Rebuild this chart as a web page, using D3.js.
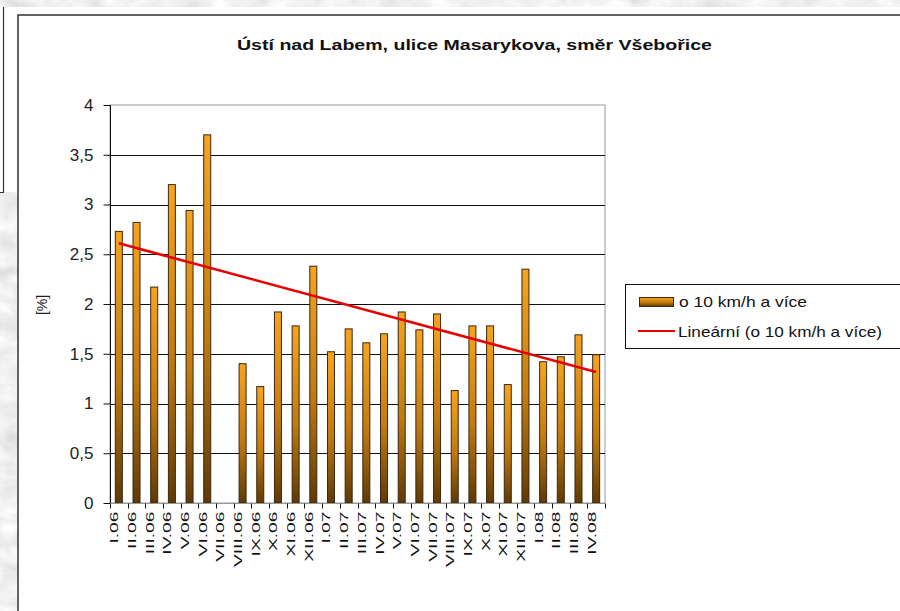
<!DOCTYPE html>
<html>
<head>
<meta charset="utf-8">
<script src="https://cdn.jsdelivr.net/npm/d3@7"></script>
<style>
    body { margin: 0; background: #fff; }
    svg text { font-family: Arial, "Liberation Sans", sans-serif; }
</style>
</head>
<body>
<div id="chart"></div>
<script>
const months = ["I.06", "II.06", "III.06", "IV.06", "V.06", "VI.06", "VII.06", "VIII.06", "IX.06", "X.06", "XI.06", "XII.06",
    "I.07", "II.07", "III.07", "IV.07", "V.07", "VI.07", "VII.07", "VIII.07", "IX.07", "X.07", "XI.07", "XII.07",
    "I.08", "II.08", "III.08", "IV.08"];
const values = [2.73, 2.82, 2.17, 3.2, 2.94, 3.7, null, 1.4, 1.17, 1.92, 1.78, 2.38,
    1.52, 1.75, 1.61, 1.7, 1.92, 1.74, 1.9, 1.13, 1.78, 1.78, 1.19, 2.35,
    1.42, 1.47, 1.69, 1.49];
const yTicks = [0, 0.5, 1, 1.5, 2, 2.5, 3, 3.5, 4];
const seriesName = "o 10 km/h a více";
const trendName = "Lineární (o 10 km/h a více)";
const title = "Ústí nad Labem, ulice Masarykova, směr Všebořice";

const width = 900, height = 611;
const plot = { left: 110, right: 605, top: 105, bottom: 503 };

const svg = d3.select("#chart")
    .append("svg")
    .attr("width", width)
    .attr("height", height);

const defs = svg.append("defs");

// grey marble-ish page background
const marble = defs.append("filter").attr("id", "marble")
    .attr("x", 0).attr("y", 0).attr("width", "100%").attr("height", "100%");
marble.append("feTurbulence")
    .attr("type", "fractalNoise")
    .attr("baseFrequency", "0.04 0.06")
    .attr("numOctaves", 4)
    .attr("seed", 3);
marble.append("feColorMatrix")
    .attr("type", "matrix")
    .attr("values", "0.22 0.22 0.22 0 0.55  0.22 0.22 0.22 0 0.55  0.22 0.22 0.22 0 0.55  0 0 0 0 1");

const barGrad = defs.append("linearGradient")
    .attr("id", "barGrad")
    .attr("x1", 0).attr("y1", 0).attr("x2", 0).attr("y2", 1);
barGrad.append("stop").attr("offset", "0%").attr("stop-color", "#f7a41e");
barGrad.append("stop").attr("offset", "55%").attr("stop-color", "#c27a10");
barGrad.append("stop").attr("offset", "100%").attr("stop-color", "#5e3a05");

svg.append("rect")
    .attr("width", width).attr("height", height)
    .attr("filter", "url(#marble)");

// white strips / neighbouring box at the top left
svg.append("rect").attr("x", 0).attr("y", 7).attr("width", width).attr("height", 185).attr("fill", "#fff");
svg.append("path")
    .attr("d", "M3.5,7 V192.5 H0")
    .attr("fill", "none").attr("stroke", "#333").attr("stroke-width", 1.2);

// chart frame
svg.append("rect")
    .attr("x", 18).attr("y", 15)
    .attr("width", width).attr("height", height)
    .attr("fill", "#fff")
    .attr("stroke", "#333").attr("stroke-width", 1.5);

svg.append("text")
    .attr("x", 474.5).attr("y", 50)
    .attr("text-anchor", "middle")
    .attr("font-size", 15).attr("font-weight", "bold")
    .attr("textLength", 475).attr("lengthAdjust", "spacingAndGlyphs")
    .attr("fill", "#111")
    .text(title);

const x = d3.scaleBand().domain(months).range([plot.left, plot.right]);
const y = d3.scaleLinear().domain([0, 4]).range([plot.bottom, plot.top]);

// plot area border
svg.append("rect")
    .attr("x", plot.left).attr("y", plot.top)
    .attr("width", plot.right - plot.left).attr("height", plot.bottom - plot.top)
    .attr("fill", "#fff").attr("stroke", "#999").attr("stroke-width", 1);

svg.append("g")
    .selectAll("line")
    .data(yTicks.filter((d) => d > 0 && d < 4))
    .enter()
    .append("line")
    .attr("x1", plot.left).attr("x2", plot.right)
    .attr("y1", (d) => Math.round(y(d)) + 0.5).attr("y2", (d) => Math.round(y(d)) + 0.5)
    .attr("stroke", "#111").attr("stroke-width", 1.1);

const barW = 8;
svg.append("g")
    .selectAll("rect")
    .data(months.map((m, i) => ({ m, v: values[i] })).filter((d) => d.v !== null))
    .enter()
    .append("rect")
    .attr("x", (d) => x(d.m) + x.bandwidth() / 2 - barW / 2 + 0.5)
    .attr("y", (d) => y(d.v))
    .attr("width", barW - 1)
    .attr("height", (d) => y(0) - y(d.v))
    .attr("fill", "url(#barGrad)")
    .attr("stroke", "#3a2810").attr("stroke-width", 1);

// y axis
const yAxis = svg.append("g")
    .attr("transform", `translate(${plot.left + 0.5},0)`)
    .call(d3.axisLeft(y).tickValues(yTicks).tickSize(7).tickPadding(10)
        .tickFormat((d) => String(d).replace(".", ",")));
yAxis.select(".domain").attr("stroke", "#111").attr("d", `M0,${plot.top}V${plot.bottom}`);
yAxis.selectAll(".tick line").attr("stroke", "#111");
yAxis.selectAll(".tick text")
    .attr("font-size", 17)
    .attr("font-family", "Arial, 'Liberation Sans', sans-serif")
    .attr("fill", "#222");

// x axis
const xAxis = svg.append("g")
    .attr("transform", `translate(0,${plot.bottom + 0.5})`);
xAxis.append("line")
    .attr("x1", plot.left).attr("x2", plot.right)
    .attr("stroke", "#999");
xAxis.selectAll(".xtick")
    .data(months.concat(["end"]))
    .enter()
    .append("line")
    .attr("x1", (d, i) => Math.round(plot.left + i * x.step()) + 0.5)
    .attr("x2", (d, i) => Math.round(plot.left + i * x.step()) + 0.5)
    .attr("y1", 0).attr("y2", 5)
    .attr("stroke", "#111");
xAxis.selectAll(".xlabel")
    .data(months)
    .enter()
    .append("text")
    .attr("text-anchor", "end")
    .attr("font-size", 11)
    .attr("fill", "#111")
    .attr("transform", (d) => `translate(${x(d) + x.bandwidth() / 2 - 0.5}, 8) rotate(-90) scale(1.75,1)`)
    .text((d) => d);

svg.append("text")
    .attr("transform", "translate(47,305) rotate(-90)")
    .attr("text-anchor", "middle")
    .attr("font-size", 14)
    .attr("fill", "#222")
    .text("[%]");

// linear trend (least squares over month index, missing month skipped)
const pts = values.map((v, i) => [i + 1, v]).filter((p) => p[1] !== null);
const mx = d3.mean(pts, (p) => p[0]);
const my = d3.mean(pts, (p) => p[1]);
const slope = d3.sum(pts, (p) => (p[0] - mx) * (p[1] - my)) / d3.sum(pts, (p) => (p[0] - mx) ** 2);
const icpt = my - slope * mx;
const trend = [1, months.length].map((k) => [x(months[k - 1]) + x.bandwidth() / 2, icpt + slope * k]);

svg.append("path")
    .attr("d", d3.line().x((p) => p[0]).y((p) => y(p[1]))(trend))
    .attr("fill", "none")
    .attr("stroke", "#e80000")
    .attr("stroke-width", 2.6);

// legend
const legend = svg.append("g");
legend.append("rect")
    .attr("x", 625.5).attr("y", 284.5)
    .attr("width", 300).attr("height", 64)
    .attr("fill", "#fff").attr("stroke", "#111");
legend.append("rect")
    .attr("x", 639.5).attr("y", 297.5)
    .attr("width", 34).attr("height", 9)
    .attr("fill", "url(#barGrad)").attr("stroke", "#3a2810");
legend.append("text")
    .attr("x", 679).attr("y", 306.5)
    .attr("font-size", 15).attr("fill", "#111")
    .attr("textLength", 128).attr("lengthAdjust", "spacingAndGlyphs")
    .text(seriesName);
legend.append("line")
    .attr("x1", 638).attr("x2", 675)
    .attr("y1", 331).attr("y2", 331)
    .attr("stroke", "#e80000").attr("stroke-width", 2);
legend.append("text")
    .attr("x", 678).attr("y", 337)
    .attr("font-size", 15).attr("fill", "#111")
    .attr("textLength", 204).attr("lengthAdjust", "spacingAndGlyphs")
    .text(trendName);
</script>
</body>
</html>
